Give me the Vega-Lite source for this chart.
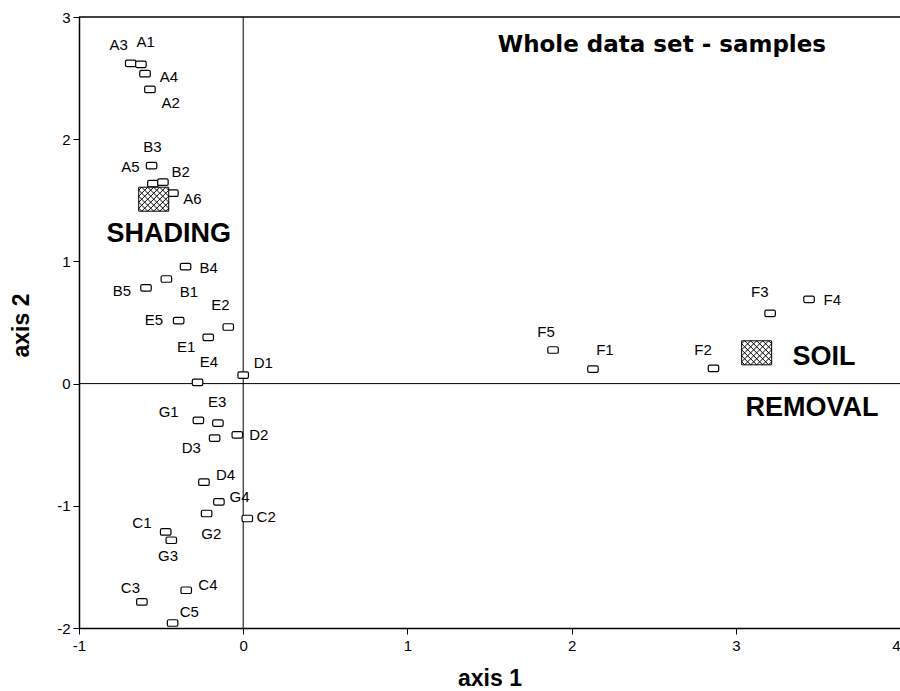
{
  "$schema": "https://vega.github.io/schema/vega-lite/v6.json",
  "autosize": {"type": "none"},
  "padding": {"left": 79, "top": 17, "right": 0, "bottom": 63},
  "width": 821,
  "height": 611,
  "background": "white",
  "config": {
    "view": {"stroke": null},
    "font": "Liberation Sans",
    "axis": {
      "grid": false,
      "domainColor": "black",
      "domainWidth": 1.5,
      "tickColor": "black",
      "tickSize": 6,
      "labelColor": "black",
      "labelFont": "Liberation Sans",
      "labelFontSize": 15,
      "titleColor": "black",
      "titleFont": "Liberation Sans",
      "titleFontSize": 23,
      "titleFontWeight": "bold"
    }
  },
  "datasets": {
    "samples": [
      {"id": "A3", "x": -0.685, "y": 2.62, "lx": -0.758, "ly": 2.767},
      {"id": "A1", "x": -0.623, "y": 2.612, "lx": -0.594, "ly": 2.792},
      {"id": "A4", "x": -0.598, "y": 2.536, "lx": -0.452, "ly": 2.513},
      {"id": "A2", "x": -0.568, "y": 2.407, "lx": -0.442, "ly": 2.296},
      {"id": "B3", "x": -0.558, "y": 1.784, "lx": -0.553, "ly": 1.94},
      {"id": "A5", "x": -0.55, "y": 1.637, "lx": -0.687, "ly": 1.776},
      {"id": "B2", "x": -0.489, "y": 1.648, "lx": -0.381, "ly": 1.735},
      {"id": "A6", "x": -0.428, "y": 1.558, "lx": -0.31, "ly": 1.509},
      {"id": "B4", "x": -0.351, "y": 0.957, "lx": -0.211, "ly": 0.944},
      {"id": "B1", "x": -0.468, "y": 0.856, "lx": -0.331, "ly": 0.752},
      {"id": "B5", "x": -0.592, "y": 0.783, "lx": -0.738, "ly": 0.76},
      {"id": "E2", "x": -0.091, "y": 0.463, "lx": -0.138, "ly": 0.643},
      {"id": "E5", "x": -0.393, "y": 0.515, "lx": -0.544, "ly": 0.52},
      {"id": "E1", "x": -0.213, "y": 0.379, "lx": -0.347, "ly": 0.302},
      {"id": "E4", "x": -0.278, "y": 0.01, "lx": -0.209, "ly": 0.174},
      {"id": "D1", "x": 0.0, "y": 0.07, "lx": 0.122, "ly": 0.171},
      {"id": "G1", "x": -0.273, "y": -0.301, "lx": -0.454, "ly": -0.236},
      {"id": "E3", "x": -0.154, "y": -0.323, "lx": -0.158, "ly": -0.149},
      {"id": "D3", "x": -0.174, "y": -0.446, "lx": -0.316, "ly": -0.526},
      {"id": "D2", "x": -0.036, "y": -0.419, "lx": 0.095, "ly": -0.422},
      {"id": "D4", "x": -0.239, "y": -0.807, "lx": -0.107, "ly": -0.749},
      {"id": "G4", "x": -0.148, "y": -0.968, "lx": -0.022, "ly": -0.927},
      {"id": "G2", "x": -0.223, "y": -1.063, "lx": -0.194, "ly": -1.227},
      {"id": "C2", "x": 0.025, "y": -1.104, "lx": 0.14, "ly": -1.091},
      {"id": "C1", "x": -0.472, "y": -1.214, "lx": -0.617, "ly": -1.14},
      {"id": "G3", "x": -0.438, "y": -1.282, "lx": -0.458, "ly": -1.409},
      {"id": "C3", "x": -0.617, "y": -1.787, "lx": -0.687, "ly": -1.669},
      {"id": "C4", "x": -0.347, "y": -1.691, "lx": -0.215, "ly": -1.65},
      {"id": "C5", "x": -0.43, "y": -1.959, "lx": -0.328, "ly": -1.869},
      {"id": "F5", "x": 1.887, "y": 0.275, "lx": 1.844, "ly": 0.425},
      {"id": "F1", "x": 2.13, "y": 0.119, "lx": 2.203, "ly": 0.275},
      {"id": "F2", "x": 2.864, "y": 0.125, "lx": 2.801, "ly": 0.275},
      {"id": "F3", "x": 3.209, "y": 0.575, "lx": 3.146, "ly": 0.752},
      {"id": "F4", "x": 3.446, "y": 0.69, "lx": 3.588, "ly": 0.684}
    ],
    "centroids": [
      {"group": "SHADING", "x": -0.545, "y": 1.509},
      {"group": "SOIL REMOVAL", "x": 3.127, "y": 0.252}
    ],
    "notes": [
      {"text": "Whole data set - samples", "x": 2.55, "y": 2.773, "kind": "title"},
      {"text": "SHADING", "x": -0.454, "y": 1.225, "kind": "group"},
      {"text": "SOIL", "x": 3.537, "y": 0.217, "kind": "group"},
      {"text": "REMOVAL", "x": 3.464, "y": -0.2, "kind": "group"}
    ]
  },
  "layer": [
    {
      "data": {"values": [{}]},
      "mark": {"type": "rule", "color": "black", "strokeWidth": 1.5},
      "encoding": {"y": {"datum": 3, "type": "quantitative"}}
    },
    {
      "data": {"values": [{}]},
      "mark": {"type": "rule", "color": "black", "strokeWidth": 1},
      "encoding": {"y": {"datum": 0, "type": "quantitative"}}
    },
    {
      "data": {"values": [{}]},
      "mark": {"type": "rule", "color": "black", "strokeWidth": 1},
      "encoding": {"x": {"datum": 0, "type": "quantitative"}}
    },
    {
      "data": {"name": "samples"},
      "mark": {
        "type": "point",
        "filled": true,
        "fill": "white",
        "stroke": "black",
        "strokeWidth": 1.2,
        "opacity": 1,
        "size": 110,
        "shape": "M-0.7,-0.62H0.7Q1,-0.62 1,-0.32V0.32Q1,0.62 0.7,0.62H-0.7Q-1,0.62 -1,0.32V-0.32Q-1,-0.62 -0.7,-0.62Z"
      },
      "encoding": {
        "x": {
          "field": "x", "type": "quantitative",
          "scale": {"domain": [-1, 4], "nice": false, "zero": false},
          "axis": {
            "title": "axis 1",
            "values": [-1, 0, 1, 2, 3, 4],
            "labelExpr": "datum.value + ''",
            "labelFlush": false,
            "labelAlign": {"condition": {"test": "datum.value === 4", "value": "right"}, "value": "center"},
            "labelPadding": 4,
            "titleBaseline": "alphabetic",
            "titleY": 57
          }
        },
        "y": {
          "field": "y", "type": "quantitative",
          "scale": {"domain": [-2, 3], "nice": false, "zero": false},
          "axis": {
            "title": "axis 2",
            "values": [-2, -1, 0, 1, 2, 3],
            "labelExpr": "datum.value + ''",
            "labelFlush": false,
            "labelPadding": 3,
            "titleBaseline": "alphabetic",
            "titleX": -51,
            "titleY": 308
          }
        }
      }
    },
    {
      "data": {"name": "centroids"},
      "mark": {
        "type": "point",
        "filled": true,
        "fill": "white",
        "stroke": "black",
        "strokeWidth": 1,
        "opacity": 1,
        "size": 900,
        "shape": "M-1,-0.8H1V0.8H-1Z M0.8,-0.8L1,-0.6 M0.4,-0.8L1,-0.2 M0,-0.8L1,0.2 M-0.4,-0.8L1,0.6 M-0.8,-0.8L0.8,0.8 M-1,-0.6L0.4,0.8 M-1,-0.2L0,0.8 M-1,0.2L-0.4,0.8 M-1,0.6L-0.8,0.8 M-1,-0.6L-0.8,-0.8 M-1,-0.2L-0.4,-0.8 M-1,0.2L0,-0.8 M-1,0.6L0.4,-0.8 M-0.8,0.8L0.8,-0.8 M-0.4,0.8L1,-0.6 M0,0.8L1,-0.2 M0.4,0.8L1,0.2 M0.8,0.8L1,0.6"
      },
      "encoding": {
        "x": {"field": "x", "type": "quantitative"},
        "y": {"field": "y", "type": "quantitative"}
      }
    },
    {
      "data": {"name": "samples"},
      "mark": {"type": "text", "font": "Liberation Sans", "fontSize": 15, "color": "black", "align": "center", "baseline": "middle"},
      "encoding": {
        "x": {"field": "lx", "type": "quantitative"},
        "y": {"field": "ly", "type": "quantitative"},
        "text": {"field": "id"}
      }
    },
    {
      "data": {"name": "notes"},
      "transform": [{"filter": "datum.kind === 'group'"}],
      "mark": {"type": "text", "font": "Liberation Sans", "fontSize": 27, "fontWeight": "bold", "color": "black", "align": "center", "baseline": "middle"},
      "encoding": {
        "x": {"field": "x", "type": "quantitative"},
        "y": {"field": "y", "type": "quantitative"},
        "text": {"field": "text"}
      }
    },
    {
      "data": {"name": "notes"},
      "transform": [{"filter": "datum.kind === 'title'"}],
      "mark": {"type": "text", "font": "DejaVu Sans", "fontSize": 23, "fontWeight": "bold", "color": "black", "align": "center", "baseline": "middle"},
      "encoding": {
        "x": {"field": "x", "type": "quantitative"},
        "y": {"field": "y", "type": "quantitative"},
        "text": {"field": "text"}
      }
    }
  ]
}
